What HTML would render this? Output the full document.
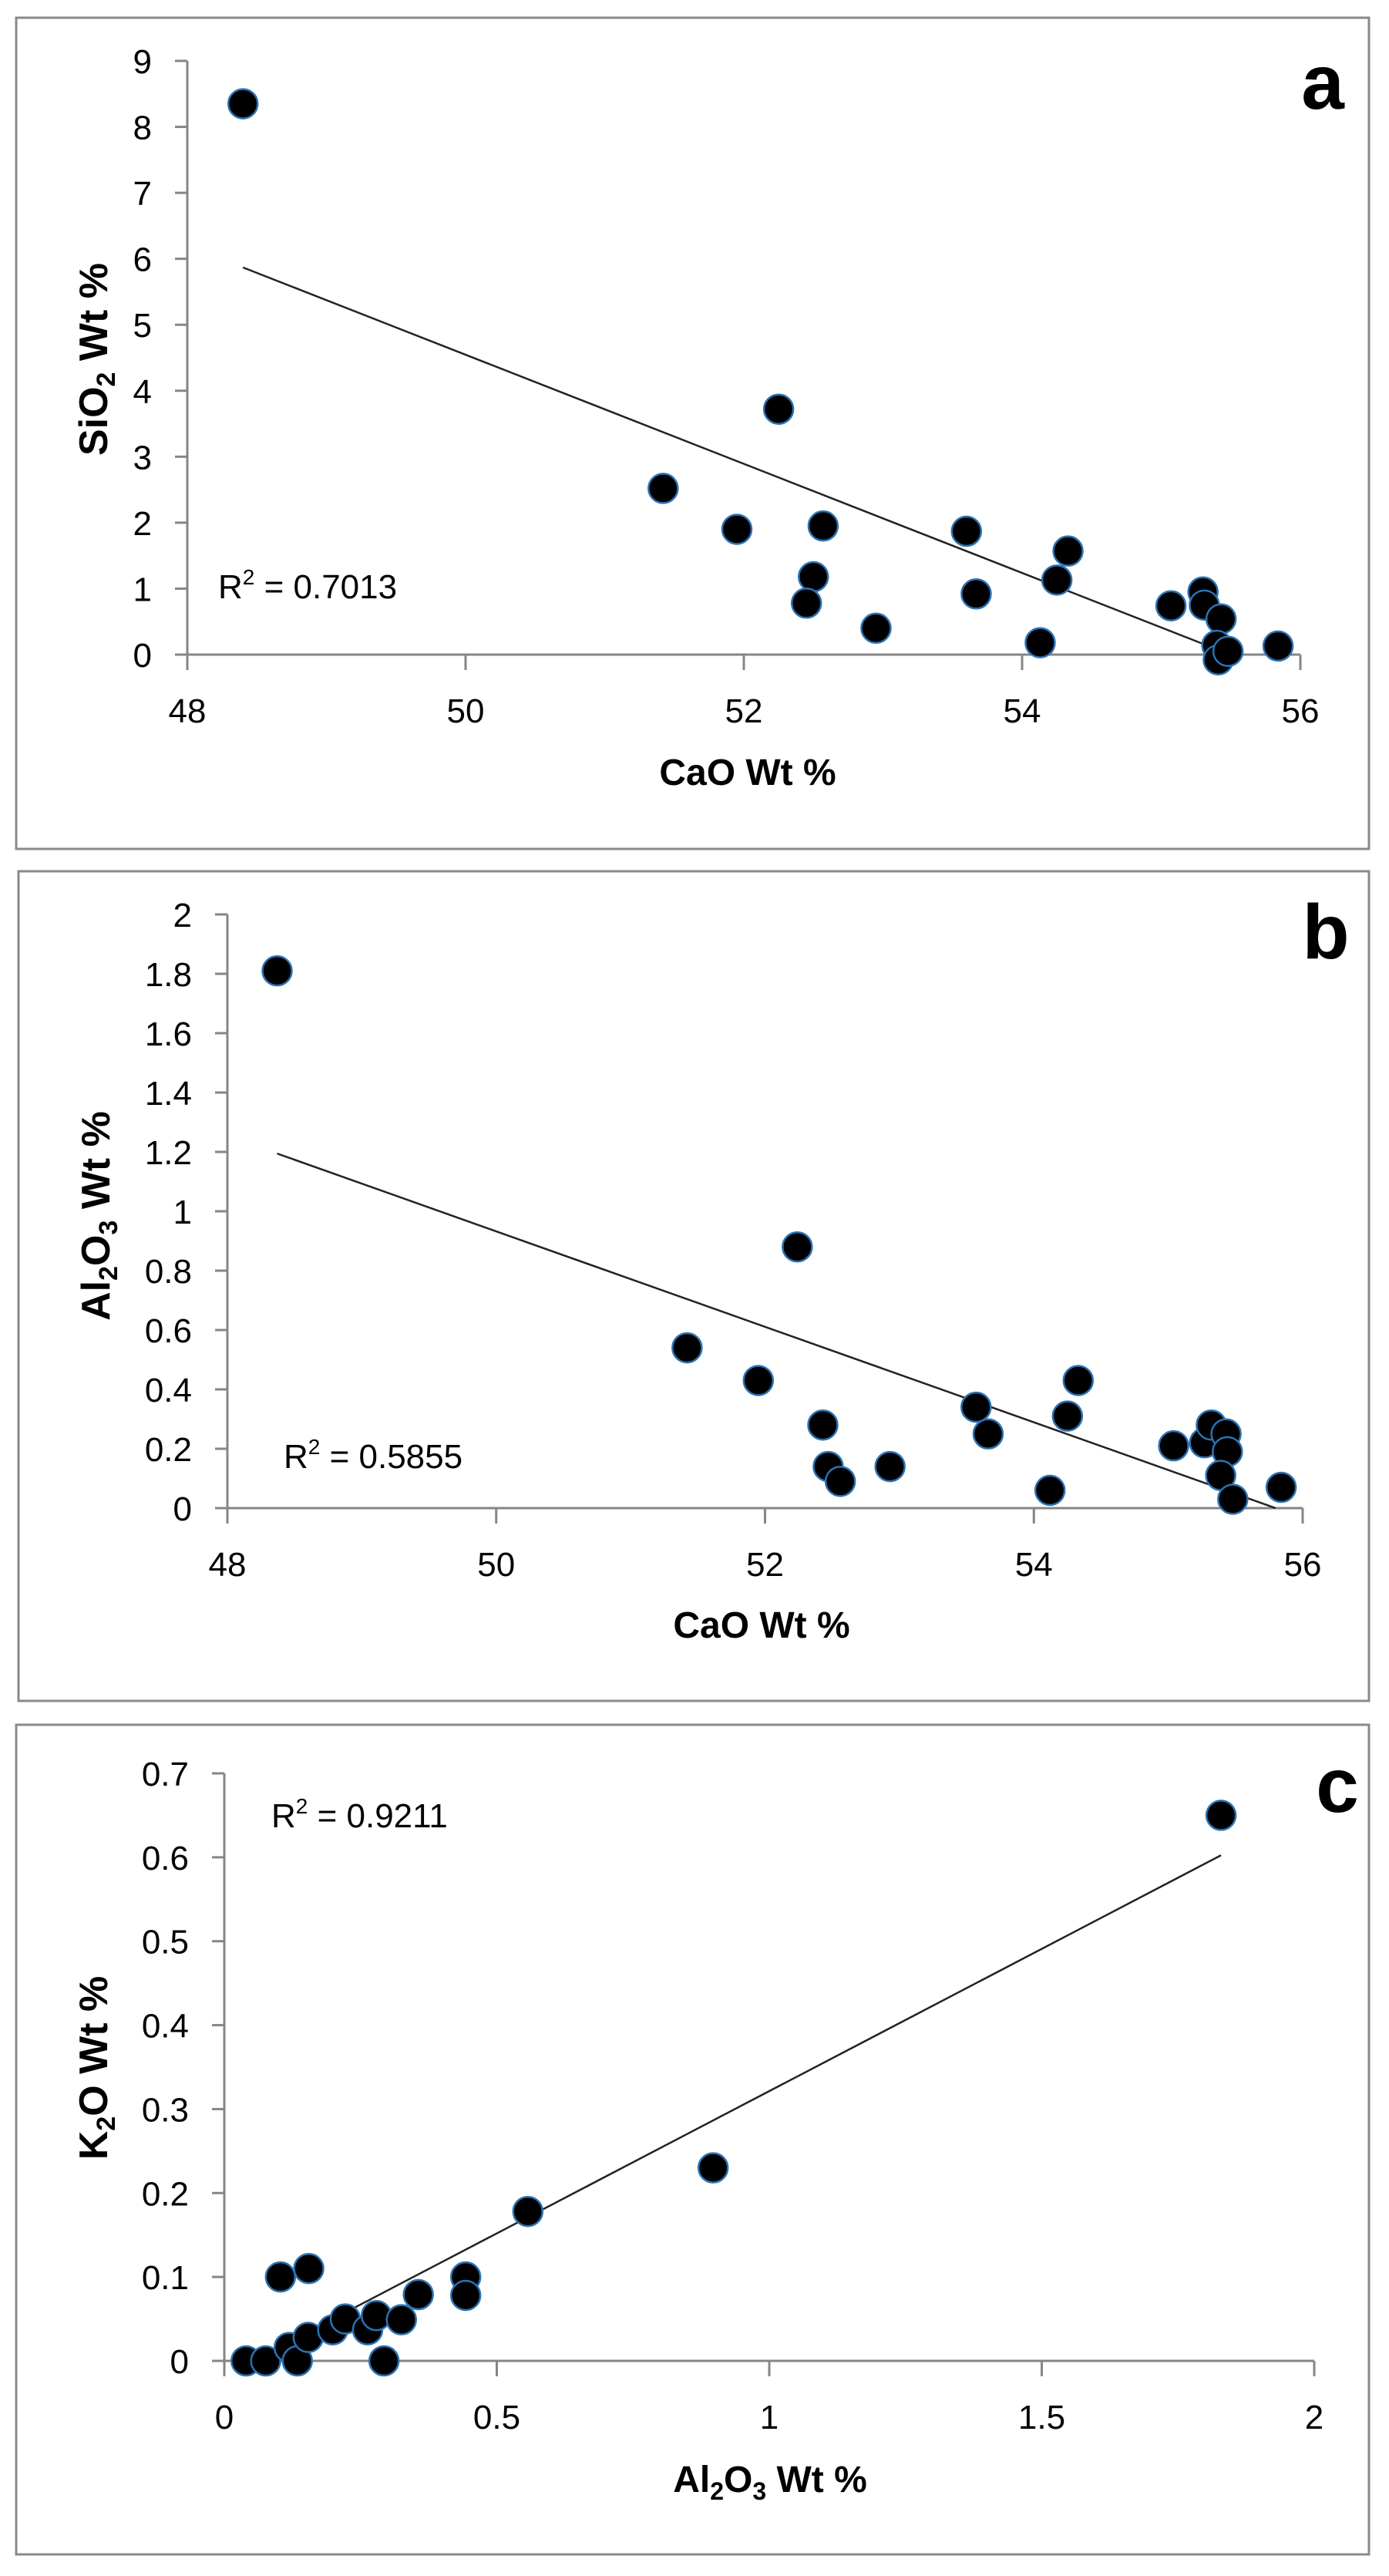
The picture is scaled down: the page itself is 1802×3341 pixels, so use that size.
<!DOCTYPE html>
<html><head><meta charset="utf-8"><style>
html,body{margin:0;padding:0;background:#fff;}
svg{display:block;}
text{font-family:"Liberation Sans",sans-serif;fill:#000;}
</style></head><body>
<svg id="fig" width="1802" height="3341" viewBox="0 0 1802 3341" xmlns="http://www.w3.org/2000/svg">
<rect x="0" y="0" width="1802" height="3341" fill="#fff"/>
</svg>
<script>
// ---- Panel a data ----
const aX = [48.4, 52.25, 51.42, 51.95, 52.57, 52.5, 52.45, 52.95, 53.6, 53.67, 54.13, 54.25, 54.33, 55.07, 55.30, 55.31, 55.43, 55.40, 55.41, 55.48, 55.84];
const aY = [8.35, 3.72, 2.52, 1.9, 1.95, 1.18, 0.78, 0.4, 1.87, 0.92, 0.18, 1.13, 1.57, 0.74, 0.95, 0.75, 0.54, 0.14, -0.08, 0.05, 0.13];
const aXTicks = [48, 50, 52, 54, 56];
const aYTicks = [0, 1, 2, 3, 4, 5, 6, 7, 8, 9];
const aTrend = [6.20, -0.827]; // intercept at x=48, slope
const aTrendX = [48.4, 55.84];
// ---- Panel b data ----
const bX = [48.37, 52.24, 51.42, 51.95, 52.43, 52.47, 52.56, 52.93, 53.57, 53.66, 54.12, 54.25, 54.33, 55.04, 55.27, 55.32, 55.43, 55.44, 55.39, 55.48, 55.84];
const bY = [1.81, 0.88, 0.54, 0.43, 0.28, 0.14, 0.09, 0.14, 0.34, 0.25, 0.06, 0.31, 0.43, 0.21, 0.22, 0.28, 0.25, 0.19, 0.11, 0.03, 0.07];
const bXTicks = [48, 50, 52, 54, 56];
const bYTicks = [0, 0.2, 0.4, 0.6, 0.8, 1, 1.2, 1.4, 1.6, 1.8, 2];
const bTrend = [1.254, -0.1608];
const bTrendX = [48.37, 55.84];
// ---- Panel c data ----
const cX = [0.04, 0.076, 0.119, 0.134, 0.103, 0.155, 0.154, 0.199, 0.222, 0.263, 0.279, 0.293, 0.325, 0.356, 0.443, 0.443, 0.557, 0.897, 1.829];
const cY = [0, 0, 0.016, 0, 0.10, 0.11, 0.028, 0.037, 0.05, 0.037, 0.054, 0, 0.049, 0.079, 0.10, 0.078, 0.178, 0.23, 0.65];
const cXTicks = [0, 0.5, 1, 1.5, 2];
const cYTicks = [0, 0.1, 0.2, 0.3, 0.4, 0.5, 0.6, 0.7];
const cTrend = [-0.0176, 0.339];
const cTrendX = [0.04, 1.829];

const NS = "http://www.w3.org/2000/svg";
const svg = document.getElementById("fig");
function mk(tag, attrs, parent) {
  const e = document.createElementNS(NS, tag);
  for (const k in attrs) e.setAttribute(k, attrs[k]);
  (parent || svg).appendChild(e);
  return e;
}

function panel(cfg) {
  const g = mk("g", {});
  
  
  const border = mk("rect", {x: cfg.box[0], y: cfg.box[1], width: cfg.box[2] - cfg.box[0], height: cfg.box[3] - cfg.box[1], fill: "#fff", stroke: "#8a8a8a", "stroke-width": 3}, g);
  
  
  const xs = v => cfg.x0 + (v - cfg.xmin) / (cfg.xmax - cfg.xmin) * (cfg.x1 - cfg.x0);
  const ys = v => cfg.y0 - (v - cfg.ymin) / (cfg.ymax - cfg.ymin) * (cfg.y0 - cfg.y1);
  const axC = "#868686";
  // axes
  const yax = mk("line", {x1: cfg.x0, y1: cfg.y1, x2: cfg.x0, y2: cfg.y0 + 20, stroke: axC, "stroke-width": 3}, g);
  
  
  const xax = mk("line", {x1: cfg.x0 - 16, y1: cfg.y0, x2: cfg.x1, y2: cfg.y0, stroke: axC, "stroke-width": 3}, g);
  
  
  cfg.xt.forEach(v => {
    const t = mk("line", {x1: xs(v), y1: cfg.y0, x2: xs(v), y2: cfg.y0 + 20, stroke: axC, "stroke-width": 3}, g);
    
    
    const l = mk("text", {x: xs(v), y: cfg.y0 + 88, "font-size": 44, "text-anchor": "middle"}, g);
    l.textContent = String(v);
    
    
  });
  cfg.yt.forEach(v => {
    const t = mk("line", {x1: cfg.x0 - 16, y1: ys(v), x2: cfg.x0, y2: ys(v), stroke: axC, "stroke-width": 3}, g);
    
    
    const l = mk("text", {x: cfg.x0 - 46, y: ys(v) + 16, "font-size": 44, "text-anchor": "end"}, g);
    l.textContent = String(v);
    
    
  });
  // trendline clipped to y >= ymin
  let tx0 = cfg.tx[0], tx1 = cfg.tx[1];
  const f = x => cfg.tr[0] + cfg.tr[1] * (x - cfg.trBase);
  const xz = cfg.trBase - cfg.tr[0] / cfg.tr[1];
  if (f(tx0) < cfg.ymin) tx0 = xz;
  if (f(tx1) < cfg.ymin) tx1 = xz;
  const tl = mk("line", {x1: xs(tx0), y1: ys(f(tx0)), x2: xs(tx1), y2: ys(f(tx1)), stroke: "#222", "stroke-width": 2.5}, g);
  
  
  // points
  cfg.px.forEach((v, i) => {
    const c = mk("circle", {cx: xs(v), cy: ys(cfg.py[i]), r: 19, fill: "#000", stroke: "#2a72b5", "stroke-width": 2.5}, g);
    
    
  });
  // R2
  const r = mk("text", {x: cfg.r2[0], y: cfg.r2[1], "font-size": 44}, g);
  
  
  r.innerHTML = 'R<tspan font-size="28" dy="-18">2</tspan><tspan dy="18"> = ' + cfg.r2[2] + '</tspan>';
  // panel letter
  const pl = mk("text", {x: cfg.letter[0], y: cfg.letter[1], "font-size": 100, "font-weight": "bold", "text-anchor": "middle"}, g);
  pl.textContent = cfg.letter[2];
  
  
  // x title
  const xt = mk("text", {x: cfg.xtitle[0], y: cfg.xtitle[1], "font-size": 48, "font-weight": "bold", "text-anchor": "middle"}, g);
  xt.innerHTML = cfg.xtitle[2];
  
  
  // y title
  const yt = mk("text", {x: 0, y: 0, "font-size": 52, "font-weight": "bold", "text-anchor": "middle", transform: "translate(" + (cfg.ytitle[0] + 18) + "," + cfg.ytitle[1] + ") rotate(-90)"}, g);
  yt.innerHTML = cfg.ytitle[2];
  
  
}

panel({name: "panel-a", box: [21, 23, 1776, 1101], x0: 243, x1: 1687, xmin: 48, xmax: 56, y0: 849, y1: 79, ymin: 0, ymax: 9,
  xt: aXTicks, yt: aYTicks, px: aX, py: aY, tr: aTrend, trBase: 48, tx: aTrendX,
  r2: [283, 776, "0.7013"], letter: [1716, 141, "a"],
  xtitle: [970, 1018, "CaO Wt %"],
  ytitle: [121, 466, 'SiO<tspan font-size="34" dy="10">2</tspan><tspan dy="-10">  Wt %</tspan>']});

panel({name: "panel-b", box: [24, 1130, 1776, 2206], x0: 295, x1: 1690, xmin: 48, xmax: 56, y0: 1956, y1: 1186, ymin: 0, ymax: 2,
  xt: bXTicks, yt: bYTicks, px: bX, py: bY, tr: bTrend, trBase: 48, tx: bTrendX,
  r2: [368, 1904, "0.5855"], letter: [1720, 1243, "b"],
  xtitle: [988, 2124, "CaO Wt %"],
  ytitle: [124, 1577, 'Al<tspan font-size="34" dy="10">2</tspan><tspan dy="-10">O</tspan><tspan font-size="34" dy="10">3</tspan><tspan dy="-10">  Wt %</tspan>']});

panel({name: "panel-c", box: [21, 2237, 1776, 3313], x0: 291, x1: 1705, xmin: 0, xmax: 2, y0: 3062, y1: 2300, ymin: 0, ymax: 0.7,
  xt: cXTicks, yt: cYTicks, px: cX, py: cY, tr: cTrend, trBase: 0, tx: cTrendX,
  r2: [352, 2370, "0.9211"], letter: [1735, 2350, "c"],
  xtitle: [999, 3232, 'Al<tspan font-size="32" dy="10">2</tspan><tspan dy="-10">O</tspan><tspan font-size="32" dy="10">3</tspan><tspan dy="-10">  Wt %</tspan>'],
  ytitle: [121, 2682, 'K<tspan font-size="34" dy="10">2</tspan><tspan dy="-10">O  Wt %</tspan>']});
</script>
</body></html>
